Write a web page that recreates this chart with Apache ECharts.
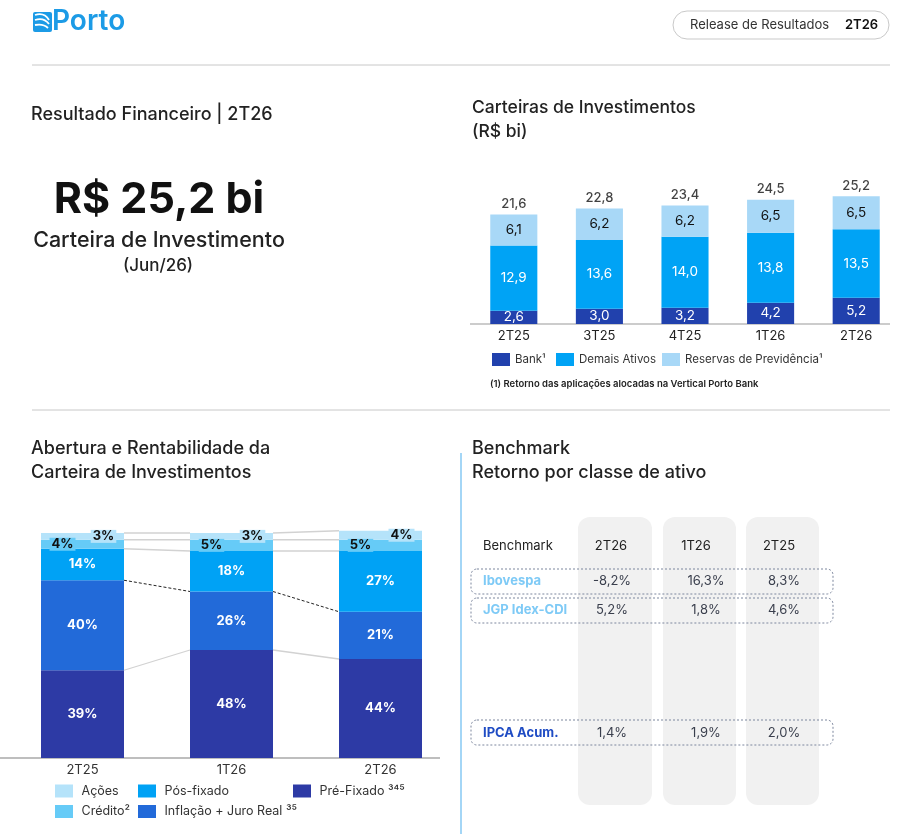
<!DOCTYPE html>
<html><head><meta charset="utf-8">
<script src="https://cdn.jsdelivr.net/npm/echarts@6/dist/echarts.min.js"></script>
<style>html,body{margin:0;padding:0;background:#fff}#c{width:906px;height:834px}</style>
</head><body><div id="c"></div>
<script>
// ---- Carteiras de Investimentos (R$ bi) ----
const carteiraCats = ['2T25', '3T25', '4T25', '1T26', '2T26'];
const bankVals = [2.6, 3.0, 3.2, 4.2, 5.2];
const demaisVals = [12.9, 13.6, 14.0, 13.8, 13.5];
const reservaVals = [6.1, 6.2, 6.2, 6.5, 6.5];
const carteiraTotals = [21.6, 22.8, 23.4, 24.5, 25.2];

// ---- Abertura da carteira (%) ----
const aberturaCats = ['2T25', '1T26', '2T26'];
const preFixado = [39, 48, 44];
const inflacao = [40, 26, 21];
const posFixado = [14, 18, 27];
const credito = [4, 5, 5];
const acoes = [3, 3, 4];

// ---- Benchmark table ----
const benchHeader = 'Benchmark';
const benchPeriods = ['2T26', '1T26', '2T25'];
const benchNames = ['Ibovespa', 'JGP Idex-CDI', 'IPCA Acum.'];
const ibovespaVals = ['-8,2%', '16,3%', '8,3%'];
const jgpVals = ['5,2%', '1,8%', '4,6%'];
const ipcaVals = ['1,4%', '1,9%', '2,0%'];

const FONT = 'Inter, "Noto Sans", sans-serif';
const C = {
  bank: '#2141ad', demais: '#00a3f5', reserva: '#a8d8f7',
  pre: '#2d3aa5', infl: '#226ad9', pos: '#00a2f5', cred: '#66cbf7', acoes: '#b5e3fa'
};
const fmt1 = v => v.toFixed(1).replace('.', ',');

const chart = echarts.init(document.getElementById('c'), null, {renderer: 'canvas'});

// cumulative boundaries for connector lines
const bounds = [];
(function () {
  const layers = [preFixado, inflacao, posFixado, credito, acoes];
  let acc = aberturaCats.map(() => 0);
  layers.forEach(l => { acc = acc.map((a, i) => a + l[i]); bounds.push(acc.slice()); });
})();

const BW2 = 0.557;
function connectorItem(params, api) {
  const i = params.dataIndex;
  if (i >= aberturaCats.length - 1) return null;
  const bw = api.size([1, 0])[0] * BW2;
  const children = bounds.map((b, k) => {
    const p1 = api.coord([i, b[i]]);
    const p2 = api.coord([i + 1, b[i + 1]]);
    const dashed = k === 1;
    return {
      type: 'line',
      shape: {x1: p1[0] + bw / 2, y1: p1[1], x2: p2[0] - bw / 2, y2: p2[1]},
      style: {stroke: dashed ? '#222' : '#d2d2d2', lineWidth: dashed ? 1 : 1.3, lineDash: dashed ? [3, 2] : null}
    };
  });
  return {type: 'group', children};
}

function txt(text, x, y, size, opts) {
  opts = opts || {};
  return {
    type: 'text', silent: true,
    style: {
      text, x, y, fill: opts.fill || '#222',
      font: (opts.weight || 'normal') + ' ' + size + 'px ' + FONT,
      textAlign: opts.align || 'left', textVerticalAlign: 'middle'
    }
  };
}

const graphics = [];
// header logo
graphics.push({type: 'rect', shape: {x: 33, y: 12, width: 19, height: 20, r: 2}, style: {fill: '#1c9be6'}});
graphics.push({type: 'bezierCurve', shape: {x1: 35, y1: 15, x2: 49, y2: 20, cpx1: 41, cpy1: 13, cpx2: 46, cpy2: 15}, style: {stroke: '#fff', lineWidth: 1.8, fill: null}});
graphics.push({type: 'bezierCurve', shape: {x1: 35, y1: 20, x2: 49, y2: 24, cpx1: 41, cpy1: 18, cpx2: 46, cpy2: 20}, style: {stroke: '#fff', lineWidth: 1.8, fill: null}});
graphics.push({type: 'bezierCurve', shape: {x1: 35, y1: 25, x2: 48, y2: 28, cpx1: 40, cpy1: 24, cpx2: 45, cpy2: 25}, style: {stroke: '#fff', lineWidth: 1.8, fill: null}});
graphics.push(txt('Porto', 52, 22, 28, {fill: '#1c9be6', weight: '600'}));
graphics.push({type: 'rect', shape: {x: 673, y: 11, width: 216, height: 28, r: 14}, style: {fill: '#fff', stroke: '#c9c9c9', lineWidth: 1}});
graphics.push(txt('Release de Resultados', 690, 25.5, 13, {fill: '#333'}));
graphics.push(txt('2T26', 845, 25.5, 13, {weight: '600', fill: '#111'}));
graphics.push({type: 'line', shape: {x1: 32, y1: 65, x2: 890, y2: 65}, style: {stroke: '#c8c8c8', lineWidth: 1}});

// section 1
graphics.push(txt('Resultado Financeiro | 2T26', 31, 115, 18, {weight: '500'}));
graphics.push(txt('R$ ' + fmt1(carteiraTotals[carteiraTotals.length - 1]) + ' bi', 159, 200, 43, {align: 'center', weight: 'bold', fill: '#111'}));
graphics.push(txt('Carteira de Investimento', 159, 241, 21.5, {align: 'center', weight: '500'}));
graphics.push(txt('(Jun/26)', 158, 266, 17, {align: 'center', weight: '500'}));

// section 2 titles
graphics.push(txt('Carteiras de Investimentos', 472, 108, 17.5, {weight: '500'}));
graphics.push(txt('(R$ bi)', 472, 132, 17.5, {weight: '500'}));
graphics.push({type: 'line', shape: {x1: 470, y1: 324, x2: 890, y2: 324}, style: {stroke: '#9a9a9a', lineWidth: 1.2}});
graphics.push(txt('(1) Retorno das aplicações alocadas na Vertical Porto Bank', 490, 384, 9.5, {weight: '600', fill: '#222'}));

graphics.push({type: 'line', shape: {x1: 32, y1: 410, x2: 890, y2: 410}, style: {stroke: '#c8c8c8', lineWidth: 1}});

// section 3
graphics.push(txt('Abertura e Rentabilidade da', 31, 449, 18, {weight: '500'}));
graphics.push(txt('Carteira de Investimentos', 31, 473, 18, {weight: '500'}));
graphics.push({type: 'line', shape: {x1: 0, y1: 758, x2: 440, y2: 758}, style: {stroke: '#a8a8a8', lineWidth: 1.5}});

// vertical divider
graphics.push({type: 'line', shape: {x1: 461, y1: 453, x2: 461, y2: 834}, style: {stroke: '#86c9f3', lineWidth: 1.5}});

// section 4: benchmark table
graphics.push(txt('Benchmark', 472, 449, 18, {weight: '500'}));
graphics.push(txt('Retorno por classe de ativo', 472, 473, 18, {weight: '500'}));
const colX = [615, 700, 783];
const colBg = [[578, 74], [663, 73], [746, 73]];
colBg.forEach(c => graphics.push({type: 'rect', shape: {x: c[0], y: 517, width: c[1], height: 288, r: 12}, style: {fill: '#f1f1f1'}, z: -1}));
graphics.push(txt(benchHeader, 483, 546, 13, {fill: '#222'}));
benchPeriods.forEach((p, i) => graphics.push(txt(p, colX[i] - 4, 546, 13, {align: 'center', fill: '#222'})));
const benchRows = [
  {name: benchNames[0], vals: ibovespaVals, color: '#7ecaf6', y: 581, boxY: 569},
  {name: benchNames[1], vals: jgpVals, color: '#7ecaf6', y: 610.5, boxY: 598},
  {name: benchNames[2], vals: ipcaVals, color: '#1f4cc4', y: 733, boxY: 720}
];
const valX = [612, 706, 784];
benchRows.forEach(r => {
  graphics.push({type: 'rect', shape: {x: 471, y: r.boxY, width: 362, height: 25, r: 6}, style: {fill: null, stroke: '#7d879e', lineWidth: 1, lineDash: [2, 2]}});
  graphics.push(txt(r.name, 483, r.y, 13, {weight: 'bold', fill: r.color}));
  r.vals.forEach((v, i) => graphics.push(txt(v, valX[i], r.y, 13, {align: 'center', fill: '#3a3f4d'})));
});

function legendItem(name, left, centerY, gap, size) {
  return {
    data: [name], left, top: centerY - 7, orient: 'horizontal',
    icon: 'rect', itemWidth: 18, itemHeight: 13, selectedMode: false,
    padding: 0, itemGap: 0,
    formatter: n => (gap || '') + n,
    textStyle: {fontFamily: FONT, fontSize: size || 12.5, color: '#333'}
  };
}

const option = {
  animation: false,
  backgroundColor: '#fff',
  textStyle: {fontFamily: FONT},
  graphic: {elements: graphics},
  legend: [
    legendItem('Bank¹', 492, 360, '', 11.5),
    legendItem('Demais Ativos', 556, 360, '', 11.5),
    legendItem('Reservas de Previdência¹', 662, 360, '', 11.5),
    legendItem('Ações', 55, 791.5, ' '),
    legendItem('Pós-fixado', 138, 791.5, ' '),
    legendItem('Pré-Fixado ³⁴⁵', 293, 791.5, ' '),
    legendItem('Crédito²', 55, 812, ' '),
    legendItem('Inflação + Juro Real ³⁵', 138, 812, ' ')
  ],
  grid: [
    {left: 471, width: 428, top: 172, height: 152},
    {left: 8, width: 447, top: 510.5, height: 247.5}
  ],
  xAxis: [
    {type: 'category', gridIndex: 0, data: carteiraCats, axisLine: {show: false}, axisTick: {show: false},
      axisLabel: {margin: 6, fontSize: 13, color: '#222', fontFamily: FONT}},
    {type: 'category', gridIndex: 1, data: aberturaCats, axisLine: {show: false}, axisTick: {show: false},
      axisLabel: {margin: 6, fontSize: 13, color: '#333', fontFamily: FONT}}
  ],
  yAxis: [
    {type: 'value', gridIndex: 0, min: 0, max: 30, show: false},
    {type: 'value', gridIndex: 1, min: 0, max: 110, show: false}
  ],
  series: [
    {name: 'Bank¹', type: 'bar', stack: 'c', xAxisIndex: 0, yAxisIndex: 0, barWidth: '55%', data: bankVals,
      itemStyle: {color: C.bank},
      label: {show: true, position: 'inside', color: '#fff', fontSize: 13.5, fontFamily: FONT, formatter: p => fmt1(p.value)}},
    {name: 'Demais Ativos', type: 'bar', stack: 'c', xAxisIndex: 0, yAxisIndex: 0, barWidth: '55%', data: demaisVals,
      itemStyle: {color: C.demais},
      label: {show: true, position: 'inside', color: '#fff', fontSize: 13.5, fontFamily: FONT, formatter: p => fmt1(p.value)}},
    {name: 'Reservas de Previdência¹', type: 'bar', stack: 'c', xAxisIndex: 0, yAxisIndex: 0, barWidth: '55%', data: reservaVals,
      itemStyle: {color: C.reserva},
      label: {show: true, position: 'inside', color: '#111', fontSize: 13.5, fontFamily: FONT, formatter: p => fmt1(p.value)}},
    {name: 'total', type: 'scatter', xAxisIndex: 0, yAxisIndex: 0, symbolSize: 0, data: carteiraTotals, silent: true,
      label: {show: true, position: 'top', distance: 4, color: '#111', fontSize: 13, fontWeight: '500', fontFamily: FONT, formatter: p => fmt1(p.value)}},

    {name: 'Pré-Fixado ³⁴⁵', type: 'bar', stack: 'a', xAxisIndex: 1, yAxisIndex: 1, barWidth: (BW2 * 100) + '%', data: preFixado,
      itemStyle: {color: C.pre},
      label: {show: true, position: 'inside', color: '#fff', fontWeight: 'bold', fontSize: 13, fontFamily: FONT, formatter: '{c}%'}},
    {name: 'Inflação + Juro Real ³⁵', type: 'bar', stack: 'a', xAxisIndex: 1, yAxisIndex: 1, barWidth: (BW2 * 100) + '%', data: inflacao,
      itemStyle: {color: C.infl},
      label: {show: true, position: 'inside', color: '#fff', fontWeight: 'bold', fontSize: 13, fontFamily: FONT, formatter: '{c}%'}},
    {name: 'Pós-fixado', type: 'bar', stack: 'a', xAxisIndex: 1, yAxisIndex: 1, barWidth: (BW2 * 100) + '%', data: posFixado,
      itemStyle: {color: C.pos},
      label: {show: true, position: 'inside', color: '#fff', fontWeight: 'bold', fontSize: 13, fontFamily: FONT, formatter: '{c}%'}},
    {name: 'Crédito²', type: 'bar', stack: 'a', xAxisIndex: 1, yAxisIndex: 1, barWidth: (BW2 * 100) + '%', data: credito,
      itemStyle: {color: C.cred},
      label: {show: true, position: 'inside', offset: [-20, 0], color: '#111', fontWeight: 'bold', fontSize: 13, fontFamily: FONT,
        backgroundColor: C.cred, padding: [0, 2], formatter: '{c}%'}},
    {name: 'Ações', type: 'bar', stack: 'a', xAxisIndex: 1, yAxisIndex: 1, barWidth: (BW2 * 100) + '%', data: acoes,
      itemStyle: {color: C.acoes},
      label: {show: true, position: 'inside', offset: [21, 0], color: '#111', fontWeight: 'bold', fontSize: 13, fontFamily: FONT,
        backgroundColor: C.acoes, padding: [0, 2], formatter: '{c}%'}},
    {name: 'connectors', type: 'custom', xAxisIndex: 1, yAxisIndex: 1, silent: true,
      data: aberturaCats.map((c, i) => [i]), encode: {x: 0}, renderItem: connectorItem, z: 1}
  ]
};
chart.setOption(option);
</script>
</body></html>
